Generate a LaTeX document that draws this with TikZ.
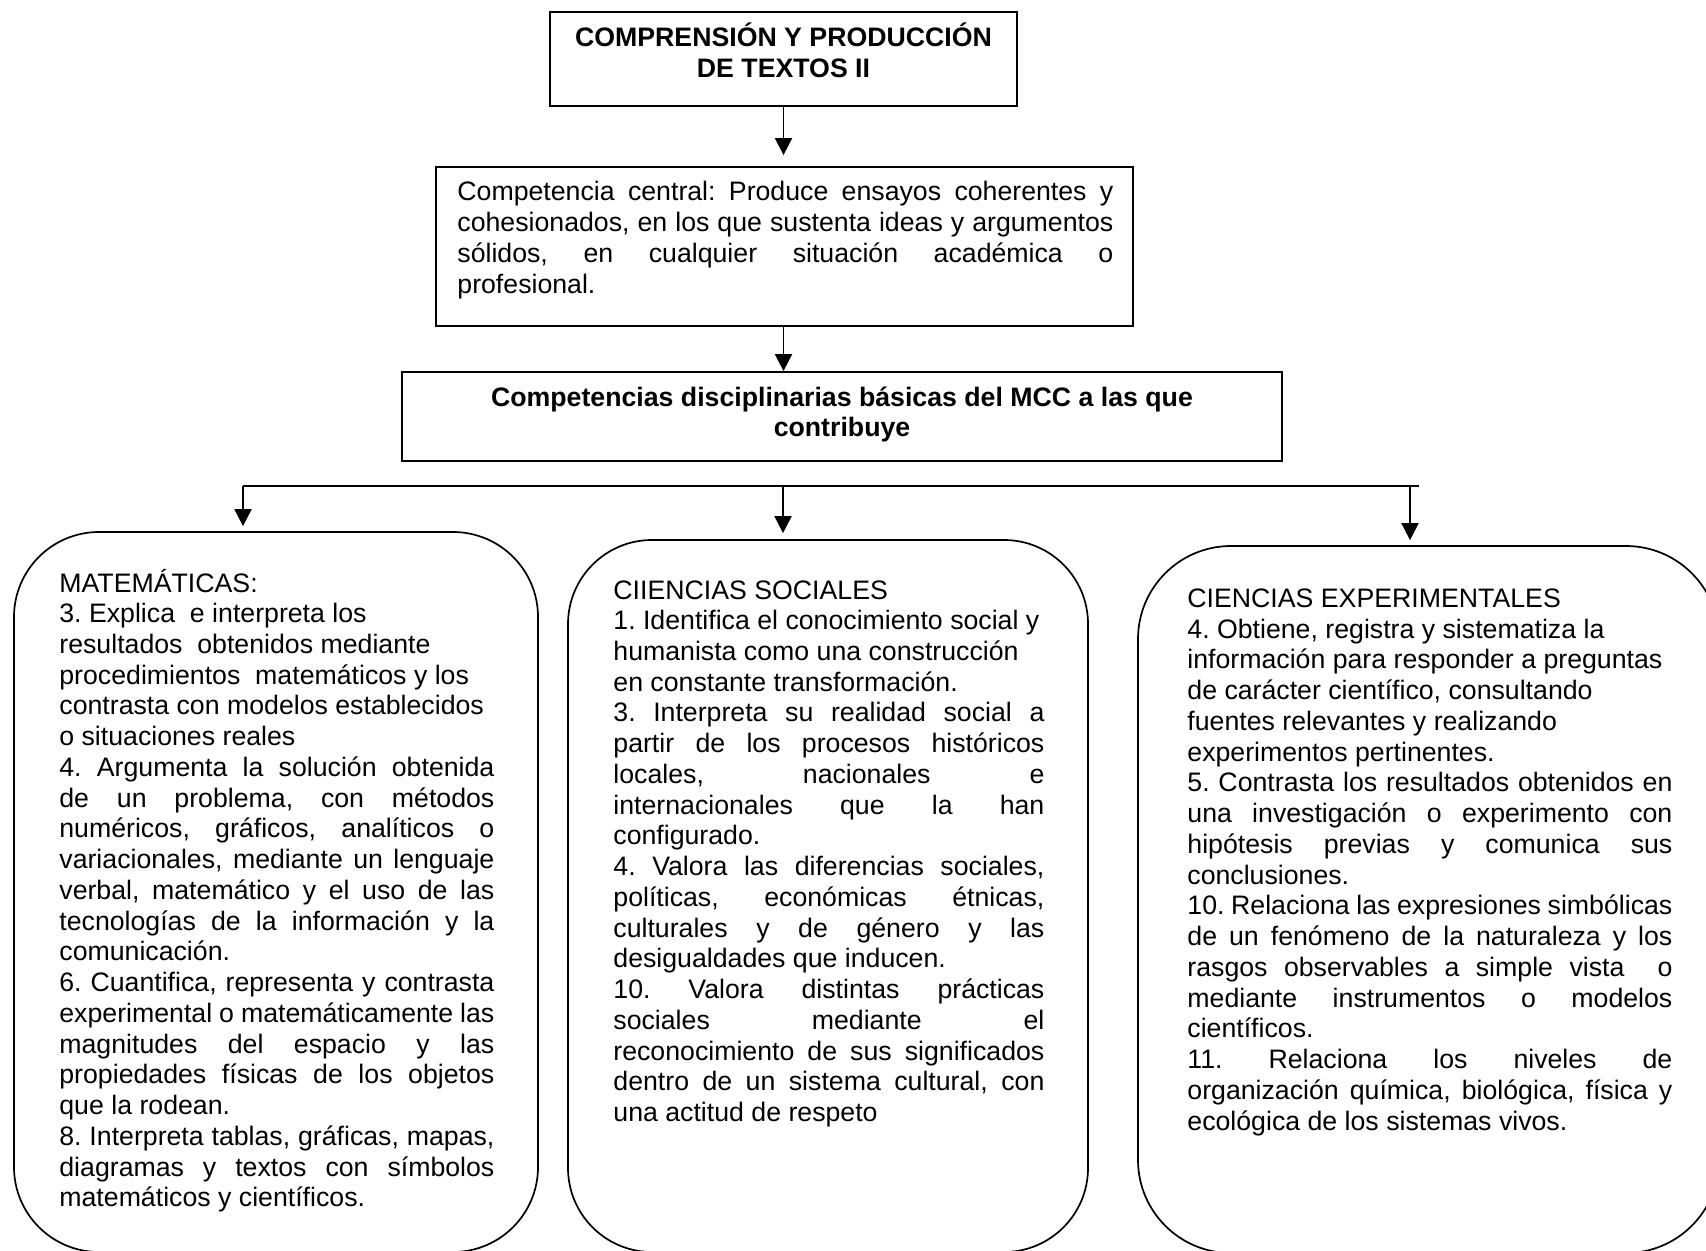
\documentclass[tikz,border=0pt]{standalone}
\usepackage{fontspec}
\setmainfont{Liberation Sans}
\usetikzlibrary{arrows.meta}
\frenchspacing
\newlength\bw
\newcommand\jl[1]{\hbox to\bw{#1}}
\newcommand\rl[1]{\hbox to\bw{#1\hfil}}
\newcommand\cl[1]{\hbox to\bw{\hfil#1\hfil}}
\newcommand\txtblock[2]{\vtop{\setlength\bw{#1}\fontsize{13.35pt}{15.37pt}\selectfont\frenchspacing\lineskiplimit=-50pt #2}}
\tikzset{
  box/.style={draw, line width=0.9pt, inner sep=0pt},
  rbox/.style={draw, line width=0.85pt, inner sep=0pt},
  txt/.style={anchor=base west, inner sep=0pt},
  ttl/.style={anchor=base, inner sep=0pt, font=\bfseries},
  arr/.style={line width=0.9pt, -{Triangle[width=8.5pt,length=8.5pt]}}
}
\begin{document}
\begin{tikzpicture}[x=0.5pt,y=-0.5pt]
\useasboundingbox (0,0) rectangle (1706,1251);
\fill[white] (0,0) rectangle (1706,1251);
\clip (0,0) rectangle (1706,1251);

% rectangles
\node[box, minimum width=233.5pt, minimum height=47pt] (t1) at (783.5,59) {};
\node[box, minimum width=348.5pt, minimum height=79.5pt] (t2) at (784.5,246.5) {};
\node[box, minimum width=440pt, minimum height=44.5pt] (t3) at (842,416.5) {};

% rounded boxes
\node[rbox, rounded corners=42.5pt, minimum width=262pt, minimum height=360pt] (m1) at (276,892) {};
\node[rbox, rounded corners=42pt, minimum width=260pt, minimum height=356pt] (m2) at (828,896) {};
\node[rbox, rounded corners=46.5pt, minimum width=290.5pt, minimum height=353.5pt] (m3) at (1428.5,899.5) {};

% titles
\node[ttl] (t1txt) at (783.5,46.7) {\txtblock{400pt}{\bfseries\cl{COMPRENSIÓN Y PRODUCCIÓN}\cl{DE TEXTOS II}}};
\node[ttl] (t3txt) at (842,406) {\txtblock{430pt}{\bfseries\cl{Competencias disciplinarias básicas del MCC a las que}\cl{contribuye}}};

% central competence
\node[txt] (t2txt) at (457,201) {\txtblock{328pt}{%
\jl{Competencia central: Produce ensayos coherentes y}
\jl{cohesionados, en los que sustenta ideas y argumentos}
\jl{sólidos, en cualquier situación académica o}
\rl{profesional.}}};

% left box text
\node[txt] (m1txt) at (59,592) {\txtblock{217.5pt}{%
\rl{MATEMÁTICAS:}
\rl{3. Explica\ \ e interpreta los}
\rl{resultados\ \ obtenidos mediante}
\rl{procedimientos\ \ matemáticos y los}
\rl{contrasta con modelos establecidos}
\rl{o situaciones reales}
\jl{4. Argumenta la solución obtenida}
\jl{de un problema, con métodos}
\jl{numéricos, gráficos, analíticos o}
\jl{variacionales, mediante un lenguaje}
\jl{verbal, matemático y el uso de las}
\jl{tecnologías de la información y la}
\rl{comunicación.}
\jl{6. Cuantifica, representa y contrasta}
\jl{experimental o matemáticamente las}
\jl{magnitudes del espacio y las}
\jl{propiedades físicas de los objetos}
\rl{que la rodean.}
\jl{8. Interpreta tablas, gráficas, mapas,}
\jl{diagramas y textos con símbolos}
\rl{matemáticos y científicos.}}};

% middle box text
\node[txt] (m2txt) at (613,599) {\txtblock{215.5pt}{%
\rl{CIIENCIAS SOCIALES}
\rl{1. Identifica el conocimiento social y}
\rl{humanista como una construcción}
\rl{en constante transformación.}
\jl{3. Interpreta su realidad social a}
\jl{partir de los procesos históricos}
\jl{locales, nacionales e}
\jl{internacionales que la han}
\rl{configurado.}
\jl{4. Valora las diferencias sociales,}
\jl{políticas, económicas étnicas,}
\jl{culturales y de género y las}
\rl{desigualdades que inducen.}
\jl{10. Valora distintas prácticas}
\jl{sociales mediante el}
\jl{reconocimiento de sus significados}
\jl{dentro de un sistema cultural, con}
\rl{una actitud de respeto}}};

% right box text
\node[txt] (m3txt) at (1187,607.5) {\txtblock{242.5pt}{%
\rl{CIENCIAS EXPERIMENTALES}
\rl{4. Obtiene, registra y sistematiza la}
\rl{información para responder a preguntas}
\rl{de carácter científico, consultando}
\rl{fuentes relevantes y realizando}
\rl{experimentos pertinentes.}
\jl{5. Contrasta los resultados obtenidos en}
\jl{una investigación o experimento con}
\jl{hipótesis previas y comunica sus}
\rl{conclusiones.}
\jl{10. Relaciona las expresiones simbólicas}
\jl{de un fenómeno de la naturaleza y los}
\jl{rasgos observables a simple vista\ \ o}
\jl{mediante instrumentos o modelos}
\rl{científicos.}
\jl{11. Relaciona los niveles de}
\jl{organización química, biológica, física y}
\rl{ecológica de los sistemas vivos.}}};

% connectors
\draw[arr, shorten >=5.5pt] (t1.south) -- (t1.south |- t2.north);
\draw[arr] (t2.south -| t1.south) -- (t1.south |- t3.north);

\coordinate (hl) at (243,486);
\coordinate (hr) at (1419,486);
\coordinate (hm) at (783,486);
\coordinate (ha) at (1410,486);
\draw[line width=0.9pt] (hl) -- (hr);
\draw[arr, shorten >=2.5pt] (hl) -- (hl |- m1.north);
\draw[arr, shorten >=3pt] (hm) -- (hm |- m2.north);
\draw[arr, shorten >=2.5pt] (ha) -- (ha |- m3.north);
\end{tikzpicture}
\end{document}
